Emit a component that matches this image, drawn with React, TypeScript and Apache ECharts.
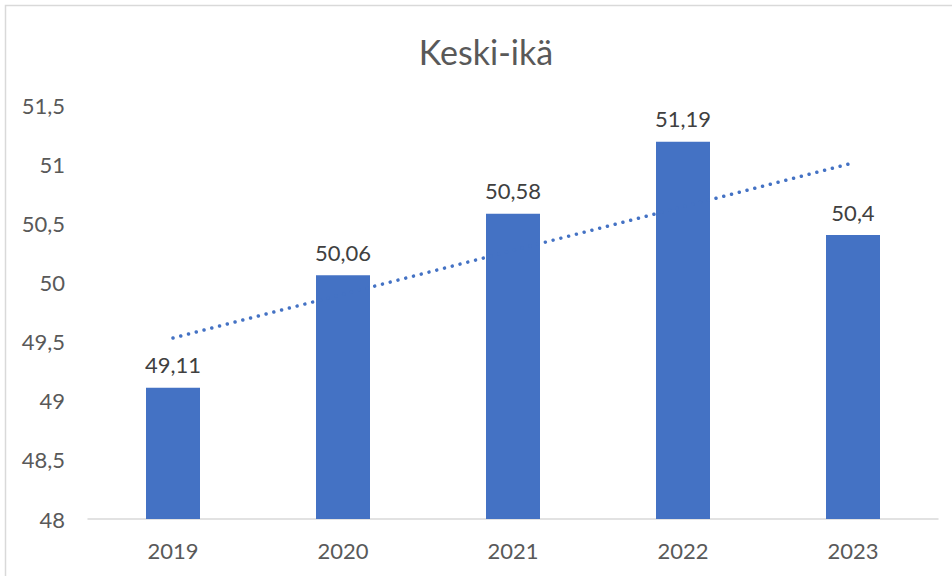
import React, { useEffect, useRef } from "react";
import * as echarts from "echarts";

const categories = ["2019", "2020", "2021", "2022", "2023"];
const meanAges = [49.11, 50.06, 50.58, 51.19, 50.4];
// Linear trendline endpoints (first and last year)
const trendValues = [49.53, null, null, null, 51.01];
const titleText = "Keski-ikä";

const FONT = "Lato, 'Noto Sans', sans-serif";
const fmt = (v: number) => String(v).replace(".", ",");

export default function App() {
  const ref = useRef<HTMLDivElement>(null);
  useEffect(() => {
    const chart = echarts.init(ref.current!, null, { renderer: "svg" });
    chart.setOption({
      animation: false,
      backgroundColor: "#ffffff",
      graphic: [
        {
          type: "rect",
          shape: { x: 5.5, y: 5.5, width: 980, height: 620 },
          style: { fill: "none", stroke: "#D9D9D9", lineWidth: 1.5 },
          silent: true,
        },
        {
          type: "text",
          x: 486,
          y: 51,
          style: {
            text: titleText,
            fontFamily: FONT,
            fontSize: 34,
            fill: "#595959",
            align: "center",
            verticalAlign: "middle",
          },
          silent: true,
        },
      ],
      grid: { left: 88, right: 14, top: 105, bottom: 57, containLabel: false },
      xAxis: {
        type: "category",
        data: categories,
        axisLine: { show: true, lineStyle: { color: "#D9D9D9", width: 1.5 } },
        axisTick: { show: false },
        axisLabel: { fontFamily: FONT, fontSize: 22, color: "#595959", margin: 20 },
      },
      yAxis: {
        type: "value",
        min: 48,
        max: 51.5,
        interval: 0.5,
        splitLine: { show: false },
        axisLine: { show: false },
        axisTick: { show: false },
        axisLabel: {
          fontFamily: FONT,
          fontSize: 22,
          color: "#595959",
          margin: 23,
          formatter: (v: number) => fmt(v),
        },
      },
      series: [
        {
          type: "bar",
          data: meanAges,
          barWidth: 54,
          itemStyle: { color: "#4472C4" },
          label: {
            show: true,
            position: "top",
            distance: 12,
            fontFamily: FONT,
            fontSize: 22,
            color: "#404040",
            formatter: (p: any) => fmt(p.value),
          },
          z: 2,
        },
        {
          type: "line",
          data: trendValues,
          connectNulls: true,
          showSymbol: false,
          symbol: "none",
          lineStyle: { color: "#4472C4", width: 3.5, type: [0.01, 8], cap: "round" },
          z: 3,
        },
      ],
    });
    return () => chart.dispose();
  }, []);
  return (
    <div
      ref={ref}
      style={{ position: "fixed", left: 0, top: 0, width: 952, height: 576 }}
    />
  );
}
